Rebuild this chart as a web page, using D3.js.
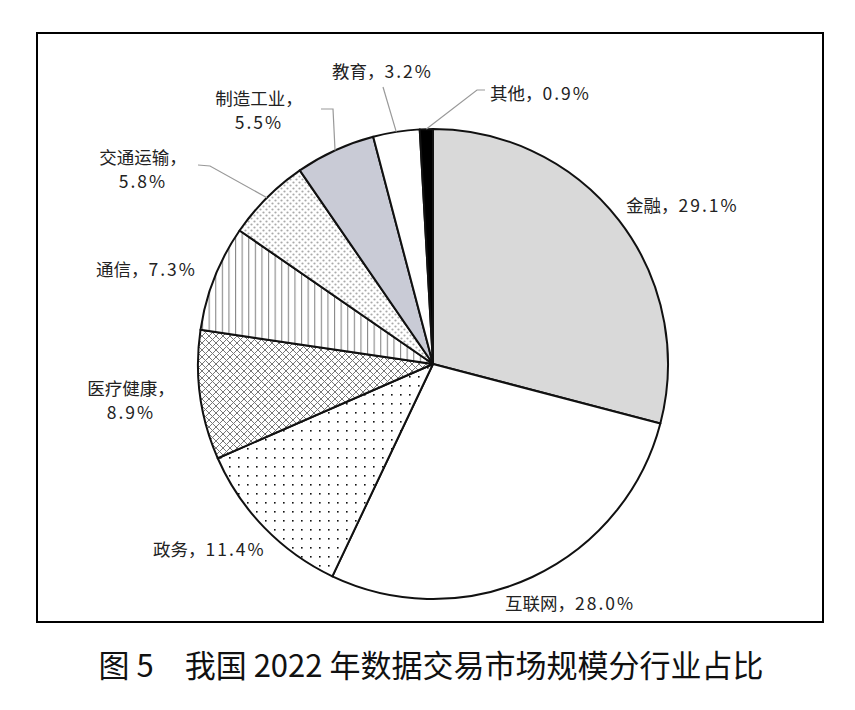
<!DOCTYPE html>
<html>
<head>
<meta charset="utf-8">
<script src="https://cdn.jsdelivr.net/npm/d3@7/dist/d3.min.js"></script>
<style>
  html, body { margin: 0; padding: 0; background: #fff; }
  svg { display: block; }
  text { font-family: "Noto Sans CJK SC", "Noto Sans", sans-serif; }
</style>
</head>
<body>
<svg id="chart" width="855" height="710"></svg>
<script>
// ---- data ----
const categories = ["金融", "互联网", "政务", "医疗健康", "通信", "交通运输", "制造工业", "教育", "其他"];
const values = [29.1, 28.0, 11.4, 8.9, 7.3, 5.8, 5.5, 3.2, 0.9];
const valueLabels = ["29.1%", "28.0%", "11.4%", "8.9%", "7.3%", "5.8%", "5.5%", "3.2%", "0.9%"];
const title = "图 5\u3000我国 2022 年数据交易市场规模分行业占比";

// ---- layout (styles / label placement) ----
const fills = ["#d9d9d9", "#ffffff", "url(#pDots)", "url(#pCross)", "url(#pVert)", "url(#pFine)", "#c9cbd6", "#ffffff", "#000000"];
const labelLayout = [
  { x: 626, y: 204, anchor: "start", two: false, leader: null },
  { x: 505, y: 602, anchor: "start", two: false, leader: null },
  { x: 153, y: 548, anchor: "start", two: false, leader: null },
  { x: 131, y: 387, anchor: "middle", two: true, leader: null },
  { x: 96,  y: 268, anchor: "start", two: false, leader: null },
  { x: 143, y: 156, anchor: "middle", two: true, leader: [[210, 166], [198, 165]] },
  { x: 259, y: 97,  anchor: "middle", two: true, leader: [[333, 109], [321, 109]] },
  { x: 332, y: 70,  anchor: "start", two: false, leader: [[383, 87]] },
  { x: 490, y: 92,  anchor: "start", two: false, leader: [[477, 90], [485, 90]] }
];

const svg = d3.select("#chart");
const defs = svg.append("defs");

const pDots = defs.append("pattern").attr("id", "pDots").attr("patternUnits", "userSpaceOnUse")
  .attr("width", 9).attr("height", 9);
pDots.append("rect").attr("width", 9).attr("height", 9).attr("fill", "#fff");
pDots.append("rect").attr("x", 3).attr("y", 3).attr("width", 1.6).attr("height", 1.6).attr("fill", "#111");

const pCross = defs.append("pattern").attr("id", "pCross").attr("patternUnits", "userSpaceOnUse")
  .attr("width", 7).attr("height", 7);
pCross.append("rect").attr("width", 7).attr("height", 7).attr("fill", "#fff");
pCross.append("path").attr("d", "M0,0 L7,7 M7,0 L0,7 M-1,6 L1,8 M6,-1 L8,1 M-1,1 L1,-1 M6,8 L8,6")
  .attr("stroke", "#777").attr("stroke-width", 1);

const pVert = defs.append("pattern").attr("id", "pVert").attr("patternUnits", "userSpaceOnUse")
  .attr("width", 6.6).attr("height", 10);
pVert.append("rect").attr("width", 6.6).attr("height", 10).attr("fill", "#fff");
pVert.append("rect").attr("x", 0).attr("y", 0).attr("width", 1.1).attr("height", 10).attr("fill", "#888");

const pFine = defs.append("pattern").attr("id", "pFine").attr("patternUnits", "userSpaceOnUse")
  .attr("width", 6).attr("height", 6);
pFine.append("rect").attr("width", 6).attr("height", 6).attr("fill", "#fff");
pFine.append("circle").attr("cx", 1.5).attr("cy", 1.5).attr("r", 1.1).attr("fill", "#aaa");
pFine.append("circle").attr("cx", 4.5).attr("cy", 4.5).attr("r", 1.1).attr("fill", "#aaa");

svg.append("rect").attr("x", 37).attr("y", 33).attr("width", 786).attr("height", 589)
  .attr("fill", "none").attr("stroke", "#000").attr("stroke-width", 2);

const cx = 433, cy = 364, R = 235;
const g = svg.append("g").attr("transform", `translate(${cx},${cy})`);

const data = categories.map((c, i) => ({ name: c, value: values[i], label: valueLabels[i], i }));
const pie = d3.pie().sort(null).value(d => d.value).startAngle(0).endAngle(2 * Math.PI);
const arcs = pie(data);
const arc = d3.arc().innerRadius(0).outerRadius(R);

g.selectAll("path.slice").data(arcs).join("path")
  .attr("class", "slice")
  .attr("d", arc)
  .attr("fill", d => fills[d.data.i])
  .attr("stroke", "#111")
  .attr("stroke-width", 2)
  .attr("stroke-linejoin", "round");

arcs.forEach(a => {
  const L = labelLayout[a.data.i];
  if (!L.leader) return;
  const mid = (a.startAngle + a.endAngle) / 2;
  const sx = cx + R * Math.sin(mid), sy = cy - R * Math.cos(mid);
  const pts = [[sx, sy]].concat(L.leader);
  svg.append("path").attr("d", d3.line()(pts))
    .attr("fill", "none").attr("stroke", "#999").attr("stroke-width", 1.2);
});

arcs.forEach(a => {
  const L = labelLayout[a.data.i];
  const t = svg.append("text")
    .attr("x", L.x).attr("y", L.y)
    .attr("text-anchor", L.anchor)
    .attr("dominant-baseline", "central")
    .attr("font-size", 17.5)
    .attr("fill", "#222");
  if (L.two) {
    t.append("tspan").attr("x", L.x).attr("y", L.y).text(a.data.name + "，");
    t.append("tspan").attr("x", L.x).attr("y", L.y + 24).attr("letter-spacing", 2).text(a.data.label);
  } else {
    t.append("tspan").text(a.data.name + "，");
    t.append("tspan").attr("letter-spacing", 2).text(a.data.label);
  }
});

svg.append("text").attr("x", 431).attr("y", 663)
  .attr("text-anchor", "middle").attr("dominant-baseline", "central")
  .attr("font-size", 31).attr("fill", "#111")
  .text(title);
</script>
</body>
</html>
